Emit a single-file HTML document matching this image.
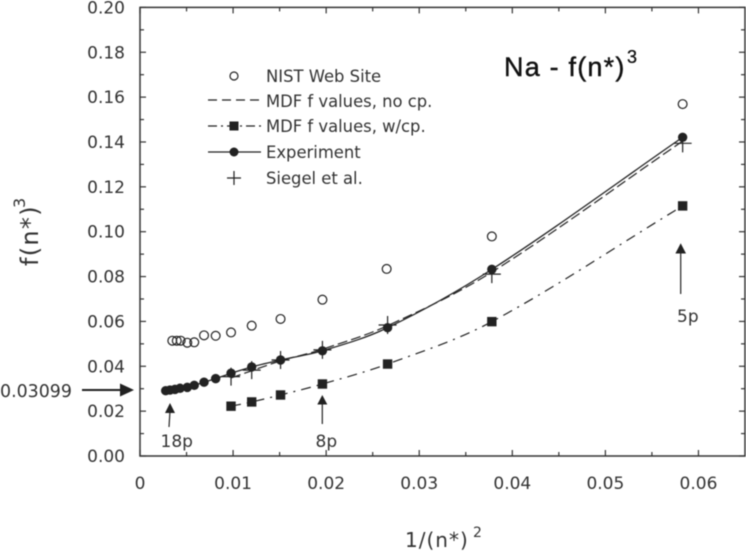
<!DOCTYPE html>
<html lang="en">
<head>
<meta charset="utf-8">
<title>Na - f(n*)^3 chart</title>
<style>
html,body{margin:0;padding:0;background:#fff;width:746px;height:552px;overflow:hidden}
svg{display:block;filter:blur(0.4px)}
text{font-family:"DejaVu Sans","Liberation Sans",sans-serif;fill:#333}
</style>
</head>
<body>
<svg id="chart" xmlns="http://www.w3.org/2000/svg" width="746" height="552" viewBox="0 0 746 552">
  <rect x="0" y="0" width="746" height="552" fill="#fff"/>
  <g id="axes"></g>
  <g id="series"></g>

  <text x="504" y="76" style="font-family:'Liberation Sans',sans-serif;font-size:27px;letter-spacing:1.2px;fill:#111;stroke:#111;stroke-width:0.4px">Na - f(n*)</text>
  <text x="627" y="63" style="font-family:'Liberation Sans',sans-serif;font-size:18px;fill:#111;stroke:#111;stroke-width:0.3px">3</text>

  <g>
    <text transform="translate(38 266) rotate(-90)" style="font-size:24px;letter-spacing:1.3px">f(n*)</text>
    <text transform="translate(25 208) rotate(-90)" style="font-size:16px">3</text>
  </g>
  <g>
    <text x="405" y="547" style="font-size:20px;letter-spacing:1px">1/(n*)</text>
    <text x="473" y="537" style="font-size:14px">2</text>
  </g>

  <g style="font-size:16.4px">
    <g>
      <circle cx="234" cy="76" r="4" fill="#fff" stroke="#222" stroke-width="1.2"/>
      <text x="266" y="82">NIST Web Site</text>
    </g>
    <g>
      <line x1="208" y1="100" x2="261" y2="100" stroke="#222" stroke-width="1.2" stroke-dasharray="9 5"/>
      <text x="266" y="107">MDF f values, no cp.</text>
    </g>
    <g>
      <line x1="208" y1="126" x2="261" y2="126" stroke="#222" stroke-width="1.2" stroke-dasharray="9 4 2 4"/>
      <rect x="229.5" y="121.5" width="9" height="9" fill="#222"/>
      <text x="266" y="132">MDF f values, w/cp.</text>
    </g>
    <g>
      <line x1="208" y1="152" x2="261" y2="152" stroke="#222" stroke-width="1.2"/>
      <circle cx="234" cy="152" r="4.5" fill="#222"/>
      <text x="266" y="158">Experiment</text>
    </g>
    <g>
      <path d="M227 178H241M234 171V185" stroke="#222" stroke-width="1.2" fill="none"/>
      <text x="266" y="184">Siegel et al.</text>
    </g>
  </g>

  <g>
    <text x="0" y="397" style="font-size:17.4px">0.03099</text>
    <line x1="82" y1="390" x2="122" y2="390" stroke="#222" stroke-width="2"/>
    <polygon points="134,390 120,383.5 120,396.5" fill="#222"/>
  </g>
  <g>
    <line x1="170" y1="411" x2="169" y2="427" stroke="#222" stroke-width="1.2"/>
    <polygon points="170,403 165,413 175,413" fill="#222"/>
    <text x="160.5" y="447" style="font-size:17px">18p</text>
  </g>
  <g>
    <line x1="322.3" y1="402" x2="322.3" y2="424" stroke="#222" stroke-width="1.2"/>
    <polygon points="322.3,395 317.3,404.5 327.3,404.5" fill="#222"/>
    <text x="315.5" y="447" style="font-size:17px">8p</text>
  </g>
  <g>
    <line x1="680.7" y1="251" x2="680.7" y2="294" stroke="#222" stroke-width="1.2"/>
    <polygon points="680.7,243.3 675.4,253.5 686,253.5" fill="#222"/>
    <text x="677" y="322" style="font-size:17px">5p</text>
  </g>
</svg>

<script>
/* Axis tick data */
const xMajorTicks = [0, 0.01, 0.02, 0.03, 0.04, 0.05, 0.06];
const xTickLabels = ["0", "0.01", "0.02", "0.03", "0.04", "0.05", "0.06"];
const xMinorTicks = [0.005, 0.015, 0.025, 0.035, 0.045, 0.055];
const yMajorTicks = [0, 0.02, 0.04, 0.06, 0.08, 0.10, 0.12, 0.14, 0.16, 0.18, 0.20];
const yTickLabels = ["0.00", "0.02", "0.04", "0.06", "0.08", "0.10", "0.12", "0.14", "0.16", "0.18", "0.20"];
const yMinorTicks = [0.01, 0.03, 0.05, 0.07, 0.09, 0.11, 0.13, 0.15, 0.17, 0.19];

/* Series values */
const nistX = [0.00347, 0.00395, 0.00437, 0.00508, 0.00583, 0.00688, 0.00813, 0.00978, 0.0120, 0.0151, 0.0196, 0.0265, 0.0378, 0.0583];
const nistY = [0.0514, 0.0514, 0.0514, 0.0505, 0.0507, 0.0538, 0.0536, 0.0551, 0.0581, 0.0611, 0.0697, 0.0834, 0.0979, 0.1569];
const experimentX = [0.00276, 0.00322, 0.00376, 0.0043, 0.00508, 0.00583, 0.00688, 0.00813, 0.00978, 0.0120, 0.0151, 0.0196, 0.0266, 0.0378, 0.0583];
const experimentY = [0.0291, 0.0294, 0.0297, 0.0302, 0.0306, 0.0315, 0.0329, 0.0345, 0.0369, 0.0397, 0.0428, 0.0469, 0.0572, 0.0832, 0.1421];
const mdfCpX = [0.00978, 0.0120, 0.0151, 0.0196, 0.0266, 0.0378, 0.0583];
const mdfCpY = [0.0222, 0.0241, 0.0272, 0.0321, 0.0410, 0.0599, 0.1115];
const mdfNoCpX = [0.00978, 0.0120, 0.0151, 0.0196, 0.0266, 0.0378, 0.0583];
const mdfNoCpY = [0.0348, 0.0380, 0.0424, 0.0476, 0.0581, 0.0820, 0.1404];
const siegelX = [0.00978, 0.0120, 0.0151, 0.0196, 0.0266, 0.0378, 0.0583];
const siegelY = [0.0354, 0.0383, 0.0428, 0.0473, 0.0584, 0.0811, 0.1394];

const SVG_NS = "http://www.w3.org/2000/svg";
const INK = "#222";
const xScale = function (v) { return 140 + (v / 0.065) * 605; };
const yScale = function (v) { return 456 - (v / 0.2) * 448.6; };
const axesGroup = document.getElementById("axes");
const seriesGroup = document.getElementById("series");

function make(tag, attrs, parent) {
  const el = document.createElementNS(SVG_NS, tag);
  Object.keys(attrs).forEach(function (k) { el.setAttribute(k, attrs[k]); });
  parent.appendChild(el);
  return el;
}

/* Plot frame */
const frame = make("rect", {
  x: xScale(0), y: yScale(0.2), width: xScale(0.065) - xScale(0), height: yScale(0) - yScale(0.2),
  fill: "none", stroke: "#333", "stroke-width": 1.5
}, axesGroup);



/* X ticks */
function drawXTick(v, len) {
  [[yScale(0), yScale(0) - len], [yScale(0.2), yScale(0.2) + len]].forEach(function (p) {
    const t = make("line", { x1: xScale(v), x2: xScale(v), y1: p[0], y2: p[1], stroke: "#333", "stroke-width": 1.2 }, axesGroup);
    
    
  });
}
/* Y ticks */
function drawYTick(v, len) {
  [[xScale(0), xScale(0) + len], [xScale(0.065), xScale(0.065) - len]].forEach(function (p) {
    const t = make("line", { y1: yScale(v), y2: yScale(v), x1: p[0], x2: p[1], stroke: "#333", "stroke-width": 1.2 }, axesGroup);
    
    
  });
}
xMajorTicks.forEach(function (v) { drawXTick(v, 6); });
xMinorTicks.forEach(function (v) { drawXTick(v, 4); });
yMajorTicks.forEach(function (v) { drawYTick(v, 6); });
yMinorTicks.forEach(function (v) { drawYTick(v, 4); });

xMajorTicks.forEach(function (v, i) {
  const label = make("text", { x: xScale(v), y: 489, "text-anchor": "middle", style: "font-size:17px" }, axesGroup);
  label.textContent = xTickLabels[i];
  
  
});
yMajorTicks.forEach(function (v, i) {
  const label = make("text", { x: 125, y: yScale(v) + 6, "text-anchor": "end", style: "font-size:17px" }, axesGroup);
  label.textContent = yTickLabels[i];
  
  
});

/* Smooth curves through the data points */
function smoothPath(xs, ys) {
  const pts = xs.map(function (x, i) { return [xScale(x), yScale(ys[i])]; });
  let d = "M" + pts[0][0] + " " + pts[0][1];
  for (let i = 0; i < pts.length - 1; i++) {
    const p0 = pts[Math.max(i - 1, 0)];
    const p1 = pts[i];
    const p2 = pts[i + 1];
    const p3 = pts[Math.min(i + 2, pts.length - 1)];
    const h = p2[0] - p1[0];
    const m1 = (p2[1] - p0[1]) / (p2[0] - p0[0]);
    const m2 = (p3[1] - p1[1]) / (p3[0] - p1[0]);
    d += "C" + (p1[0] + h / 3) + " " + (p1[1] + m1 * h / 3) + " " + (p2[0] - h / 3) + " " + (p2[1] - m2 * h / 3) + " " + p2[0] + " " + p2[1];
  }
  return d;
}
const noCpLine = make("path", { d: smoothPath(mdfNoCpX, mdfNoCpY), fill: "none", stroke: INK, "stroke-width": 1.2, "stroke-dasharray": "10 4" }, seriesGroup);


const cpLine = make("path", { d: smoothPath(mdfCpX, mdfCpY), fill: "none", stroke: INK, "stroke-width": 1.2, "stroke-dasharray": "10 6 2 6" }, seriesGroup);


const expLine = make("path", { d: smoothPath(experimentX, experimentY), fill: "none", stroke: INK, "stroke-width": 1.3 }, seriesGroup);



/* Markers */
nistX.forEach(function (x, i) {
  const c = make("circle", { cx: xScale(x), cy: yScale(nistY[i]), r: 4.4, fill: "#fff", "fill-opacity": 0, stroke: INK, "stroke-width": 1.2 }, seriesGroup);
  
  
});
mdfCpX.forEach(function (x, i) {
  const s = make("rect", { x: xScale(x) - 4.7, y: yScale(mdfCpY[i]) - 4.7, width: 9.4, height: 9.4, fill: INK }, seriesGroup);
  
  
});
experimentX.forEach(function (x, i) {
  const c = make("circle", { cx: xScale(x), cy: yScale(experimentY[i]), r: 4.7, fill: INK }, seriesGroup);
  
  
});
siegelX.forEach(function (x, i) {
  const px = xScale(x);
  const py = yScale(siegelY[i]);
  const p = make("path", { d: "M" + (px - 9) + " " + py + "H" + (px + 9) + "M" + px + " " + (py - 9) + "V" + (py + 9), fill: "none", stroke: INK, "stroke-width": 1.2 }, seriesGroup);
  
  
});
</script>
</body>
</html>
